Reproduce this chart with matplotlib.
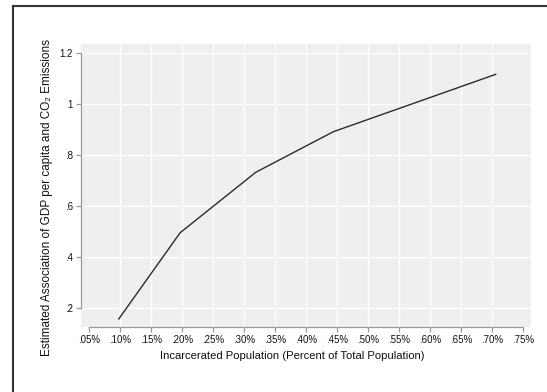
import matplotlib

matplotlib.use("Agg")
import matplotlib.pyplot as plt
from matplotlib.lines import Line2D

plt.rcParams["font.family"] = ["Liberation Sans", "DejaVu Sans"]

# incarceration share (percent) and estimated association
incarcerated_pct = [0.098, 0.197, 0.319, 0.444, 0.706]
association = [0.157, 0.495, 0.732, 0.891, 1.116]

x_ticks = [0.05, 0.10, 0.15, 0.20, 0.25, 0.30, 0.35, 0.40, 0.45, 0.50, 0.55, 0.60, 0.65, 0.70, 0.75]
x_tick_labels = [".05%", ".10%", ".15%", ".20%", ".25%", ".30%", ".35%", ".40%", ".45%", ".50%",
                 ".55%", ".60%", ".65%", ".70%", ".75%"]
y_ticks = [0.2, 0.4, 0.6, 0.8, 1.0, 1.2]
y_tick_labels = [".2", ".4", ".6", ".8", "1", "1.2"]

fig = plt.figure(figsize=(5.47, 3.92), dpi=100)
ax = fig.add_axes([0.1481, 0.1658, 0.8226, 0.722])
ax.set_facecolor("#efefef")

for tick in x_ticks[1:-1]:
    ax.axvline(tick, color="white", linewidth=0.9, zorder=1)
for tick in y_ticks:
    ax.axhline(tick, color="white", linewidth=0.9, zorder=1)

ax.plot(incarcerated_pct, association, color="#2b2b2b", linewidth=1.0, zorder=3)

ax.set_xlim(0.0371, 0.7629)
ax.set_ylim(0.1255, 1.235)
ax.set_xticks(x_ticks)
ax.set_xticklabels(x_tick_labels)
ax.set_yticks(y_ticks)
ax.set_yticklabels(y_tick_labels)

for side in ("top", "right"):
    ax.spines[side].set_visible(False)
ax.spines["left"].set_bounds(0.2, 1.2)
ax.spines["bottom"].set_bounds(0.05, 0.75)
for side in ("left", "bottom"):
    ax.spines[side].set_color("#9a9a9a")
    ax.spines[side].set_linewidth(0.9)
ax.tick_params(axis="both", colors="#9a9a9a", labelcolor="#111111", labelsize=7.0,
               length=3.8, width=0.9, pad=2)

ax.set_xlabel("Incarcerated Population (Percent of Total Population)", fontsize=8.1, labelpad=4.5,
              color="#111111")
ax.set_ylabel("Estimated Association of GDP per capita and CO₂ Emissions", fontsize=8.5, labelpad=4.8,
              color="#111111")
ax.xaxis.label.set_x(0.469)
ax.yaxis.label.set_y(0.4576)

# screenshot border along the top and left edges
fig.add_artist(Line2D([12.5 / 547, 12.5 / 547], [0, 1 - 6 / 392], transform=fig.transFigure,
                      color="#333333", linewidth=1.5))
fig.add_artist(Line2D([12.5 / 547, 1], [1 - 6 / 392, 1 - 6 / 392], transform=fig.transFigure,
                      color="#333333", linewidth=1.5))

fig.savefig("out.png", dpi=100)
